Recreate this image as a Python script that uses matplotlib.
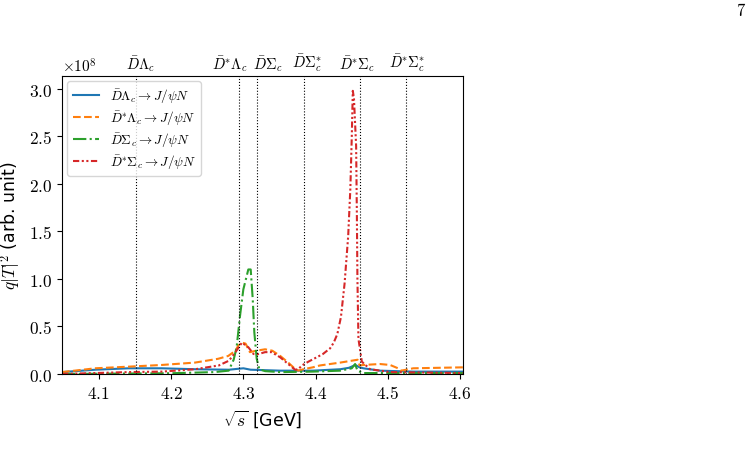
import numpy as np
import matplotlib
matplotlib.use("Agg")
import matplotlib.pyplot as plt
from matplotlib.ticker import FuncFormatter, MultipleLocator

plt.rcParams['mathtext.fontset'] = 'cm'
plt.rcParams['font.family'] = ['DejaVu Sans']

# thresholds (GeV)
thr_x = [4.1513, 4.2933, 4.3188, 4.3833, 4.4608, 4.5253]
thr_labels = [r'$\bar{D}\Lambda_c$', r'$\bar{D}^{*}\Lambda_c$', r'$\bar{D}\Sigma_c$',
              r'$\bar{D}\Sigma_c^{*}$', r'$\bar{D}^{*}\Sigma_c$', r'$\bar{D}^{*}\Sigma_c^{*}$']

# values in units of 1e8
blue_x = [4.049, 4.095, 4.141, 4.187, 4.233, 4.280, 4.293, 4.300, 4.310, 4.351, 4.396,
          4.434, 4.446, 4.455, 4.4608, 4.466, 4.489, 4.535, 4.604]
blue_y = [0.02, 0.045, 0.06, 0.06, 0.05, 0.045, 0.055, 0.06, 0.045, 0.035, 0.035,
          0.05, 0.065, 0.095, 0.07, 0.06, 0.035, 0.025, 0.025]

orange_x = [4.049, 4.095, 4.141, 4.187, 4.233, 4.265, 4.279, 4.289, 4.293, 4.298, 4.303,
            4.309, 4.318, 4.330, 4.340, 4.351, 4.362, 4.372, 4.376, 4.383, 4.396, 4.406,
            4.434, 4.450, 4.458, 4.4608, 4.466, 4.489, 4.503, 4.514, 4.518, 4.5253,
            4.535, 4.604]
orange_y = [0.02, 0.06, 0.077, 0.095, 0.12, 0.16, 0.19, 0.245, 0.30, 0.33, 0.32,
            0.23, 0.245, 0.26, 0.245, 0.19, 0.12, 0.05, 0.035, 0.05, 0.07, 0.09,
            0.12, 0.14, 0.15, 0.09, 0.095, 0.105, 0.095, 0.06, 0.035, 0.045,
            0.06, 0.07]

green_x = [4.049, 4.10, 4.20, 4.26, 4.2796, 4.2865, 4.2906, 4.2953, 4.2999, 4.3068,
           4.3101, 4.3129, 4.3151, 4.3184, 4.3220, 4.330, 4.351, 4.396, 4.434, 4.450,
           4.4546, 4.4578, 4.4657, 4.604]
green_y = [0.0, 0.003, 0.008, 0.02, 0.035, 0.15, 0.28, 0.61, 0.89, 1.10,
           1.10, 0.79, 0.44, 0.16, 0.05, 0.03, 0.02, 0.025, 0.035, 0.06,
           0.105, 0.035, 0.01, 0.01]

red_x = [4.049, 4.141, 4.187, 4.233, 4.266, 4.280, 4.289, 4.298, 4.307, 4.314, 4.321,
         4.330, 4.339, 4.351, 4.362, 4.3715, 4.376, 4.381, 4.390, 4.400, 4.410, 4.420,
         4.425, 4.430, 4.435, 4.440, 4.445, 4.448, 4.450, 4.4514, 4.4530, 4.4560,
         4.4570, 4.4578, 4.4592, 4.4639, 4.4753, 4.503, 4.604]
red_y = [0.0, 0.02, 0.025, 0.05, 0.09, 0.14, 0.23, 0.33, 0.28, 0.21, 0.21,
         0.23, 0.23, 0.175, 0.105, 0.045, 0.05, 0.09, 0.13, 0.17, 0.21, 0.27,
         0.33, 0.42, 0.60, 0.95, 1.45, 1.95, 2.5, 2.98, 2.9, 2.4,
         1.7, 1.0, 0.37, 0.13, 0.05, 0.02, 0.01]

scale = 1e8

fig = plt.figure(figsize=(7.51, 4.60), dpi=100)
ax = fig.add_axes([0.0826, 0.1848, 0.534, 0.648])

ax.plot(blue_x, np.array(blue_y) * scale, color='tab:blue', lw=1.5, ls='-',
        label=r'$\bar{D}\Lambda_c \to J/\psi N$')
ax.plot(orange_x, np.array(orange_y) * scale, color='tab:orange', lw=1.5, ls='--',
        label=r'$\bar{D}^{*}\Lambda_c \to J/\psi N$')
ax.plot(green_x, np.array(green_y) * scale, color='tab:green', lw=1.5, ls='-.',
        label=r'$\bar{D}\Sigma_c \to J/\psi N$')
ax.plot(red_x, np.array(red_y) * scale, color='tab:red', lw=1.5,
        ls=(0, (3, 1.2, 1, 1.2, 1, 1.2)),
        label=r'$\bar{D}^{*}\Sigma_c \to J/\psi N$')

label_offsets = [3, -6, 8, 2, -2, 1]
for xv, lab, off in zip(thr_x, thr_labels, label_offsets):
    ax.axvline(xv, color='k', ls=':', lw=0.8)
    ax.annotate(lab, xy=(xv, 1.0), xycoords=('data', 'axes fraction'),
                xytext=(off, 2), textcoords='offset points',
                ha='center', va='bottom', fontsize=10.5)

ax.set_xlim(4.049, 4.604)
ax.set_ylim(0, 3.137e8)
ax.xaxis.set_major_locator(MultipleLocator(0.1))
ax.yaxis.set_major_locator(MultipleLocator(0.5e8))
ax.xaxis.set_major_formatter(FuncFormatter(lambda v, p: f'${v:.1f}$'))
ax.yaxis.set_major_formatter(FuncFormatter(lambda v, p: f'${v/1e8:.1f}$'))
ax.tick_params(labelsize=12.5)
ax.text(0.0, 1.005, r'$\times 10^{8}$', transform=ax.transAxes, ha='left',
        va='bottom', fontsize=11)

ax.set_xlabel(r'$\sqrt{s}$ [GeV]', fontsize=12.5)
ax.set_ylabel(r'$q|\bar{T}|^2$ (arb. unit)', fontsize=12.5)

ax.legend(loc='upper left', fontsize=9.5, framealpha=0.8, handlelength=2.0,
          labelspacing=0.3, borderaxespad=0.4)

fig.text(0.993, 0.995, r'$7$', ha='right', va='top', fontsize=12)

fig.savefig('out.png', dpi=100)
